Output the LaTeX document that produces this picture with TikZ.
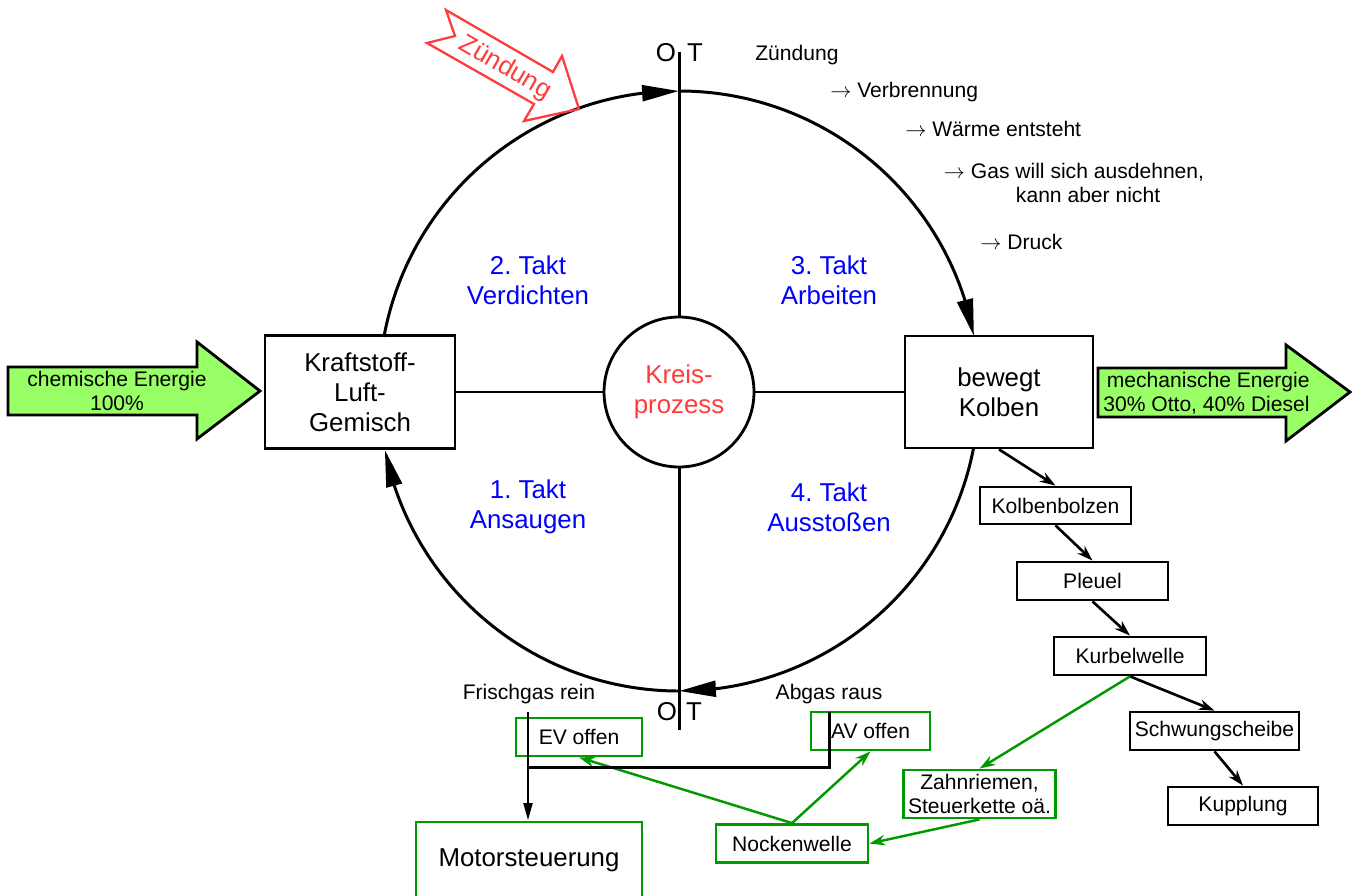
\documentclass[tikz,border=0pt]{standalone}
\usepackage{fontspec}
\setmainfont{Liberation Sans}
\usetikzlibrary{arrows.meta,bending,calc}
\definecolor{gr}{HTML}{009900}
\definecolor{lgr}{HTML}{99FF66}
\definecolor{rd}{HTML}{FF3B3B}
\frenchspacing
\begin{document}
\begin{tikzpicture}[x=0.02cm,y=-0.02cm,
  big/.style={font=\fontsize{14.7}{17}\selectfont},
  small/.style={font=\fontsize{12}{13.5}\selectfont},
  bbox/.style={draw,line width=1.6pt,align=center,inner sep=0pt,fill=white},
  gbox/.style={draw=gr,line width=1.6pt,align=center,inner sep=0pt,fill=white},
  cyc/.style={line width=1.7pt,-{Triangle[length=21pt,width=9pt]}},
  chain/.style={line width=1.5pt,-{Stealth[length=9pt,width=6pt]}},
  garr/.style={draw=gr,line width=1.4pt,-{Stealth[length=9pt,width=6pt]}},
  ln/.style={line width=1.7pt},
  takt/.style={big,text=blue,align=center}]
\useasboundingbox (0,0) rectangle (1354,895);
\coordinate (C) at (679,391);
% centre lines
\node[draw,circle,line width=1.6pt,minimum size=3cm,big,text=rd,align=center,inner sep=0pt] (K) at (679,392) {Kreis-\\prozess};
\node[bbox,big,minimum width=3.8cm,minimum height=2.26cm] (G) at (360,392) {Kraftstoff-\\Luft-\\Gemisch};
\node[bbox,big,minimum width=3.76cm,minimum height=2.24cm] (B) at (999,392) {bewegt\\Kolben};
\coordinate (OTt) at (679,52);
\coordinate (OTb) at (679,730);
\draw[ln] (OTt) -- (K.north);
\draw[ln] (K.south) -- (OTb);
\draw[ln] (G.east) -- (K.west);
\draw[ln] (K.east) -- (B.west);
% cycle arcs
\draw[cyc] ($(C)+(190.37:300)$) arc[start angle=190.37,end angle=270,radius=300];
\draw[cyc] ($(C)+(270:300)$) arc[start angle=270,end angle=349.43,radius=300];
\draw[cyc] ($(C)+(10.95:300)$) arc[start angle=10.95,end angle=90,radius=300];
\draw[cyc] ($(C)+(90:300)$) arc[start angle=90,end angle=168.66,radius=300];
% OT labels
\node[big] (O1) at (666,53) {O};
\node[big] (T1) at (695,53) {T};
\node[big] (O2) at (667,712) {O};
\node[big] (T2) at (694,712) {T};
% Takt labels
\node[takt] (t2) at (528,280) {2. Takt\\Verdichten};
\node[takt] (t3) at (829,280) {3. Takt\\Arbeiten};
\node[takt] (t1) at (528,507) {1. Takt\\Ansaugen};
\node[takt] (t4) at (829,507) {4. Takt\\Ausstoßen};
% Zuendung arrow
\draw[rd,line width=1.3pt,line join=miter] (446,10) -- (553,72) -- (562,56) -- (579,109) -- (524,121) -- (534,104) -- (427,43) -- (455,36) -- cycle;
\node[big,text=rd,rotate=-30,inner sep=0pt] (zl) at (505,68) {Zündung};
% energy arrows
\draw[line width=1.6pt,fill=lgr] (8,367) -- (197,367) -- (197,342) -- (260,391) -- (197,439) -- (197,415) -- (8,415) -- cycle;
\node[small,align=center] (ce) at (117,391) {chemische Energie\\100\%};
\draw[line width=1.6pt,fill=lgr] (1098,368) -- (1286,368) -- (1286,345) -- (1350,392) -- (1286,441) -- (1286,417) -- (1098,417) -- cycle;
\node[small,align=left,anchor=west,inner sep=0pt] (me) at (1103,393) {\hspace*{2pt}mechanische Energie\\30\% Otto, 40\% Diesel};
% explanation text
\node[small,anchor=west,inner sep=0pt] (e1) at (755,55) {Zündung};
\node[small,anchor=west,inner sep=0pt] (e2) at (830,92) {$\rightarrow$ Verbrennung};
\node[small,anchor=west,inner sep=0pt] (e3) at (905,129) {$\rightarrow$ Wärme entsteht};
\node[small,align=center] (e4) at (1074,183) {$\rightarrow$ Gas will sich ausdehnen,\\\hspace*{16pt}kann aber nicht};
\node[small,anchor=west,inner sep=0pt] (e5) at (980,242) {$\rightarrow$ Druck};
% chain
\node[bbox,small,minimum width=3.02cm,minimum height=0.74cm] (Kb) at (1055.5,505.5) {Kolbenbolzen};
\node[bbox,small,minimum width=3.02cm,minimum height=0.76cm] (Pl) at (1092.5,581) {Pleuel};
\node[bbox,small,minimum width=3.04cm,minimum height=0.76cm] (Kw) at (1130,656) {Kurbelwelle};
\node[bbox,small,minimum width=3.38cm,minimum height=0.76cm] (Sw) at (1214.5,731) {Schwungscheibe};
\node[bbox,small,minimum width=3.0cm,minimum height=0.76cm] (Ku) at (1243,806) {Kupplung};
\draw[chain] (B.south) -- (Kb.north);
\draw[chain] (Kb.south) -- (Pl.north);
\draw[chain] (Pl.south) -- (Kw.north);
\draw[chain] (Kw.south) -- (Sw.north);
\draw[chain] (Sw.south) -- (Ku.north);
% green part
\node[gbox,small,minimum width=3.04cm,minimum height=0.96cm] (Z) at (979.5,794) {Zahnriemen,\\Steuerkette oä.};
\node[gbox,small,minimum width=3.04cm,minimum height=0.76cm] (N) at (792,843.5) {Nockenwelle};
\node[gbox,small,minimum width=2.52cm,minimum height=0.76cm] (EV) at (579,737) {EV offen};
\node[gbox,small,minimum width=2.38cm,minimum height=0.76cm] (AV) at (870.5,731) {AV offen};
\node[gbox,big,minimum width=4.52cm,minimum height=1.52cm] (M) at (529,860) {Motorsteuerung};
\draw[garr] (Kw.south) -- (Z.north);
\draw[garr] (Z.south) -- (N.east);
\draw[garr] (N.north) -- (EV.south);
\draw[garr] (N.north) -- (AV.south);
% gas lines
\node[small] (fg) at (529,694) {Frischgas rein};
\node[small] (ag) at (829,694) {Abgas raus};
\coordinate (fr) at (528,712);
\coordinate (ab) at (829,712);
\coordinate (j) at (528,767);
\draw[ln] (ab) |- (j);
\draw[line width=1.5pt,-{Triangle[length=10pt,width=5pt]}] (fr) -- (fr |- M.north);
\end{tikzpicture}
\end{document}
